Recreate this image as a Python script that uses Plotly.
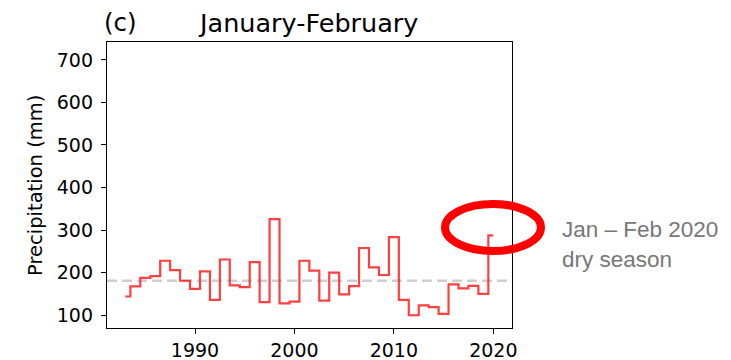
import numpy as np
import plotly.graph_objects as go

# January-February precipitation totals (mm), one value per year
years = list(range(1983, 2021))
precip = [144, 168, 188, 192, 228, 206, 181, 162, 203, 136,
          231, 170, 166, 225, 131, 326, 128, 132, 228, 205,
          134.5, 200, 149, 168.5, 258, 212.5, 194.5, 283.7, 136, 100,
          123, 119, 103, 172.6, 163, 169, 150, 287.5]

x_ticks = [1990, 2000, 2010, 2020]
y_ticks = [100, 200, 300, 400, 500, 600, 700]

mean_precip = float(np.mean(precip))

FONT = "DejaVu Sans"
NOTE_FONT = "Liberation Sans"
X_RANGE = [1981.15, 2021.88]

fig = go.Figure()

# long-term mean as a dashed reference line
fig.add_trace(go.Scatter(
    x=X_RANGE, y=[mean_precip, mean_precip],
    mode="lines", line=dict(color="rgba(190,190,190,0.75)", width=2.5, dash="10px,5px"),
    hoverinfo="skip", showlegend=False,
))

# yearly totals drawn as a mid-step line
fig.add_trace(go.Scatter(
    x=years, y=precip, mode="lines", line_shape="hvh",
    line=dict(color="rgba(255,30,30,0.85)", width=2.2),
    showlegend=False,
))

axis_common = dict(
    showline=True, linecolor="black", linewidth=1.3, mirror=True,
    ticks="outside", ticklen=5, tickwidth=1.3, tickcolor="black",
    showgrid=False, zeroline=False, automargin=False,
    tickfont=dict(family=FONT, size=19, color="black"),
)

fig.update_xaxes(range=X_RANGE, tickvals=x_ticks, **axis_common)
fig.update_yaxes(range=[70, 742], tickvals=y_ticks, ticklabelstandoff=4, **axis_common)

# highlight around the 2020 value
fig.add_shape(type="circle", xref="paper", yref="paper",
              x0=0.8346, x1=1.0716, y0=0.2692, y1=0.4336,
              line=dict(color="#ff0000", width=8), layer="above")

annotations = [
    dict(text="(c)", x=-0.012, y=1.068, xanchor="left", yanchor="middle",
         font=dict(family=FONT, size=24.5, color="black")),
    dict(text="January-February", x=0.496, y=1.068, xanchor="center", yanchor="middle",
         font=dict(family=FONT, size=25.5, color="black")),
    dict(text="Precipitation (mm)", x=-0.178, y=0.5, xanchor="center", yanchor="middle",
         textangle=-90, font=dict(family=FONT, size=19.5, color="black")),
    dict(text="Jan \u2013 Feb 2020", x=1.1185, y=0.344, xanchor="left", yanchor="middle",
         font=dict(family=NOTE_FONT, size=22.5, color="#777777")),
    dict(text="dry season", x=1.1185, y=0.238, xanchor="left", yanchor="middle",
         font=dict(family=NOTE_FONT, size=22.5, color="#777777")),
]
for a in annotations:
    a.update(xref="paper", yref="paper", showarrow=False)

fig.update_layout(
    width=731, height=360,
    margin=dict(l=107, r=219, t=42, b=32, pad=0),
    paper_bgcolor="white", plot_bgcolor="white",
    annotations=annotations,
    font=dict(family=FONT),
)

fig.write_html("out.html")
